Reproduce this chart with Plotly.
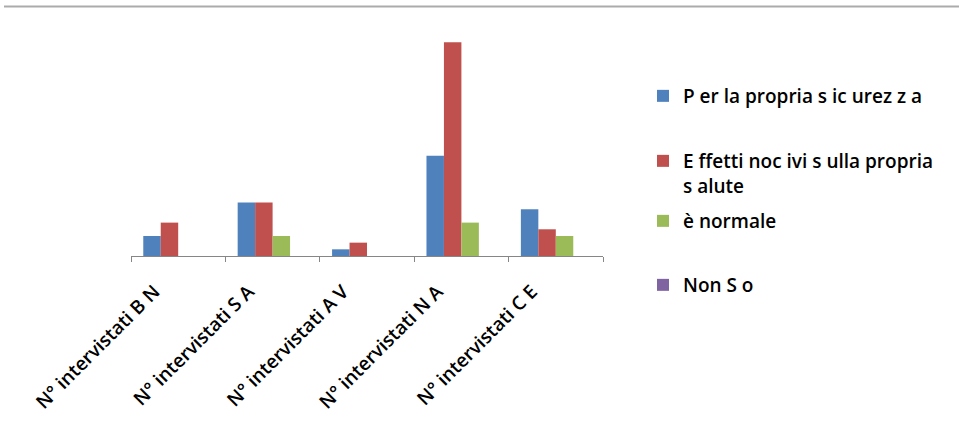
import plotly.graph_objects as go

# Survey groups and answer counts
categories = ["N° intervistati B N", "N° intervistati S A", "N° intervistati A V",
              "N° intervistati N A", "N° intervistati C E"]
series_names = ["P er la propria s ic urez z a",
                "E ffetti noc ivi s ulla propria<br>s alute",
                "è normale",
                "Non S o"]
sicurezza = [3, 8, 1, 15, 7]
salute = [5, 8, 2, 32, 4]
normale = [0, 3, 0, 5, 3]
non_so = [0, 0, 0, 0, 0]
values = [sicurezza, salute, normale, non_so]
colors = ["#4F81BD", "#C0504D", "#9BBB59", "#8064A2"]

# Plot area in pixels (959 x 421 page)
W, H = 959, 421
L, R = 131, 603
B, T = 256, 29
pw, ph = R - L, B - T

def px_x(p):
    return (p - L) / pw

def px_y(p):
    return (B - p) / ph

fig = go.Figure()
legend_keys = ["legend", "legend2", "legend3", "legend4"]
legend_centers = [95, 160, 220, 284]
for name, vals, col, lk in zip(series_names, values, colors, legend_keys):
    fig.add_trace(go.Bar(x=categories, y=vals, name=name, marker_color=col,
                         marker_line_width=0, legend=lk))

family = "Open Sans, Liberation Sans, sans-serif"
tick_font = dict(family=family, size=19, color="#000000", weight=600)
legend_font = dict(family=family, size=19, color="#000000", weight=600)

legend_layouts = {}
for lk, cy in zip(legend_keys, legend_centers):
    legend_layouts[lk] = dict(
        x=px_x(643), xanchor="left", xref="paper",
        y=px_y(cy - 18), yanchor="top", yref="paper",
        font=legend_font, bgcolor="rgba(0,0,0,0)", valign="top",
        itemwidth=30, tracegroupgap=0,
    )

fig.update_layout(
    width=W, height=H,
    margin=dict(l=L, r=W - R, t=T, b=H - B, pad=0),
    paper_bgcolor="white", plot_bgcolor="white",
    barmode="group", bargap=0.26, bargroupgap=0,
    font=dict(family=family, size=16, color="#000000"),
    showlegend=True,
    **legend_layouts,
)
fig.update_xaxes(
    type="category", tickangle=-45, showline=True, linecolor="#868686", linewidth=1,
    ticks="outside", tickson="boundaries", ticklen=5, tickcolor="#868686",
    showgrid=False, tickfont=tick_font, automargin=False,
    ticklabelstandoff=16, ticklabelshift=-24,
)
fig.update_yaxes(range=[0, 34], visible=False, showgrid=False)

# Thin gray rule along the top of the page
fig.add_shape(type="line", xref="paper", yref="paper",
              x0=px_x(4), x1=px_x(959), y0=px_y(6.5), y1=px_y(6.5),
              line=dict(color="#ababab", width=2))

fig.write_html("out.html")
